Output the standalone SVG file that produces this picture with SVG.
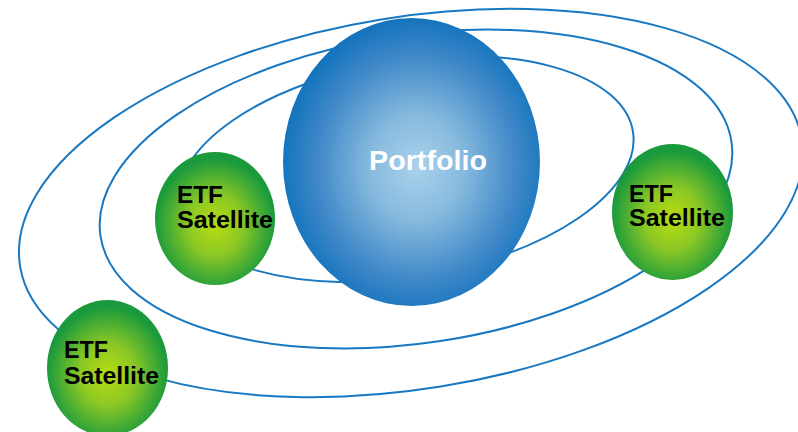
<svg xmlns="http://www.w3.org/2000/svg" width="798" height="432" viewBox="0 0 798 432">
<defs>
<radialGradient id="gBlue" cx="0.52" cy="0.52" r="0.52">
<stop offset="0" stop-color="#a9d2ec"/>
<stop offset="0.35" stop-color="#86bade"/>
<stop offset="0.75" stop-color="#3f88c8"/>
<stop offset="1" stop-color="#1474bd"/>
</radialGradient>
<radialGradient id="gGreen" cx="0.5" cy="0.55" r="0.5">
<stop offset="0" stop-color="#b8dc10"/>
<stop offset="0.45" stop-color="#8cc825"/>
<stop offset="1" stop-color="#1a9a3c"/>
</radialGradient>
<style>
.orbit{fill:none;stroke:#1878c2;stroke-width:2}
.sat{fill:url(#gGreen)}
.lbl{font-family:"Liberation Sans",Arial,sans-serif;font-weight:bold;font-size:23px;fill:#000}
.main{font-family:"Liberation Sans",Arial,sans-serif;font-weight:bold;font-size:28px;fill:#fff}
</style>
</defs>
<g id="orbits">
<ellipse class="orbit" cx="411" cy="203" rx="396" ry="186" transform="rotate(-9.2 411 203)"/>
<ellipse class="orbit" cx="416" cy="189" rx="319" ry="154" transform="rotate(-8.5 416 189)"/>
<ellipse class="orbit" cx="406" cy="169" rx="230" ry="108" transform="rotate(-9.4 406 169)"/>
</g>
<g id="portfolio">
<ellipse cx="411.5" cy="162" rx="128.5" ry="144" fill="url(#gBlue)"/>
<text class="main" x="369" y="170" textLength="118" lengthAdjust="spacingAndGlyphs">Portfolio</text>
</g>
<g id="satellite-left">
<ellipse class="sat" cx="215" cy="218.5" rx="60" ry="66.5"/>
<text class="lbl" x="177" y="203" textLength="46" lengthAdjust="spacingAndGlyphs">ETF</text>
<text class="lbl" x="177" y="228" textLength="96" lengthAdjust="spacingAndGlyphs">Satellite</text>
</g>
<g id="satellite-right">
<ellipse class="sat" cx="672.5" cy="212" rx="60.5" ry="68"/>
<text class="lbl" x="629" y="202" textLength="44" lengthAdjust="spacingAndGlyphs">ETF</text>
<text class="lbl" x="629" y="226" textLength="96" lengthAdjust="spacingAndGlyphs">Satellite</text>
</g>
<g id="satellite-bottom">
<ellipse class="sat" cx="107.5" cy="368" rx="60.5" ry="68"/>
<text class="lbl" x="64" y="358" textLength="44" lengthAdjust="spacingAndGlyphs">ETF</text>
<text class="lbl" x="64" y="384" textLength="95" lengthAdjust="spacingAndGlyphs">Satellite</text>
</g>
</svg>
